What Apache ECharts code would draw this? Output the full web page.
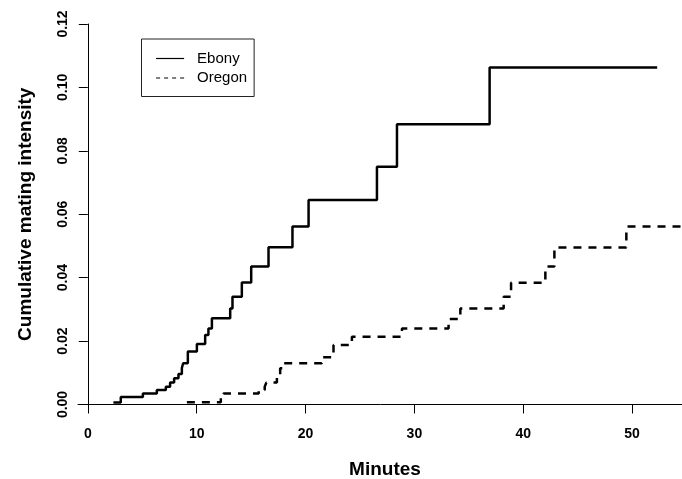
<!DOCTYPE html>
<html>
<head>
<meta charset="utf-8">
<title>Cumulative mating intensity</title>
<script src="https://cdn.jsdelivr.net/npm/echarts@6/dist/echarts.min.js"></script>
<style>
  html, body { margin: 0; padding: 0; background: #fff; }
  #main { width: 682px; height: 479px; }
</style>
</head>
<body>
<div id="main"></div>
<script>
// step times (minutes) and cumulative intensity
const ebonyTime = [2.35, 3.03, 5.06, 6.34, 7.17, 7.56, 7.93, 8.33, 8.64, 8.76, 9.19, 10.02, 10.78, 11.08, 11.4,
  13.08, 13.29, 14.15, 15.01, 16.6, 18.8, 20.28, 26.56, 28.4, 36.91, 52.3]
const ebonyCum = [0.0006, 0.0024, 0.0035, 0.0046, 0.0056, 0.0069, 0.0083, 0.0096, 0.0115, 0.013, 0.0167, 0.0191, 0.0219, 0.024, 0.0272,
  0.0303, 0.034, 0.0385, 0.0435, 0.0496, 0.0561, 0.0645, 0.075, 0.0884, 0.1063, 0.1063]

const oregonTime = [9.1, 12.22, 12.46, 15.7, 16.25, 16.4, 17.37, 17.67, 17.98, 21.5, 22.57, 24.26, 28.86,
  33.14, 34.22, 38.2, 38.88, 42.03, 42.86, 49.47, 56]
const oregonCum = [0.0007, 0.0023, 0.0035, 0.0046, 0.0056, 0.0069, 0.0088, 0.0114, 0.013, 0.0149, 0.0188, 0.0214, 0.024,
  0.027, 0.0303, 0.034, 0.0384, 0.0435, 0.0495, 0.0561, 0.0561]

const xTicks = [0, 10, 20, 30, 40, 50]

const font = 'Liberation Sans, Arial, sans-serif'

function pairs(xs, ys) {
  return xs.map((x, i) => [x, ys[i]])
}

const chart = echarts.init(document.getElementById('main'))
chart.setOption({
  animation: false,
  backgroundColor: '#fff',
  textStyle: { fontFamily: font, color: '#000' },
  grid: {
    left: 78,
    right: -10,
    top: 24,
    bottom: 74.5,
    outerBoundsMode: 'none'
  },
  legend: {
    orient: 'vertical',
    left: 141.5,
    top: 39,
    padding: [12, 7, 11, 14],
    borderColor: '#222',
    borderWidth: 1,
    itemWidth: 28,
    itemHeight: 14,
    itemGap: 4.5,
    itemStyle: { color: 'rgba(0,0,0,0)', borderWidth: 0, opacity: 0 },
    textStyle: { fontSize: 15, color: '#000', fontFamily: font, padding: [0, 0, 0, 8] },
    data: [
      { name: 'Ebony', lineStyle: { width: 1.2, type: 'solid' } },
      { name: 'Oregon', lineStyle: { width: 1.2, type: [4, 4] } }
    ]
  },
  xAxis: {
    type: 'value',
    min: -0.9,
    max: 55.5,
    name: 'Minutes',
    nameLocation: 'middle',
    nameGap: 56,
    nameTextStyle: { fontSize: 19, fontWeight: 'bold', color: '#000', fontFamily: font },
    axisLine: { onZero: false, lineStyle: { color: '#000', width: 1 } },
    axisTick: { show: true, length: 9, customValues: xTicks, lineStyle: { color: '#000' } },
    axisLabel: {
      customValues: xTicks,
      margin: 23,
      fontSize: 14,
      fontWeight: 'bold',
      color: '#000',
      fontFamily: font
    },
    splitLine: { show: false }
  },
  yAxis: {
    type: 'value',
    min: 0,
    max: 0.12,
    interval: 0.02,
    name: 'Cumulative mating intensity',
    nameLocation: 'middle',
    nameGap: 43,
    nameTextStyle: { fontSize: 19, fontWeight: 'bold', color: '#000', fontFamily: font },
    axisLine: { show: true, onZero: true, lineStyle: { color: '#000', width: 1 } },
    axisTick: { show: true, length: 9, lineStyle: { color: '#000' } },
    axisLabel: {
      rotate: 90,
      margin: 8,
      fontSize: 14,
      fontWeight: 'bold',
      color: '#000',
      fontFamily: font,
      formatter: v => v.toFixed(2)
    },
    splitLine: { show: false }
  },
  series: [
    {
      name: 'Ebony',
      type: 'line',
      step: 'end',
      symbol: 'none',
      lineStyle: { color: '#000', width: 2.5, type: 'solid' },
      itemStyle: { color: '#000' },
      data: pairs(ebonyTime, ebonyCum)
    },
    {
      name: 'Oregon',
      type: 'line',
      step: 'end',
      symbol: 'none',
      lineStyle: { color: '#000', width: 2.5, type: [8, 7] },
      itemStyle: { color: '#000' },
      data: pairs(oregonTime, oregonCum)
    }
  ]
})
</script>
</body>
</html>
